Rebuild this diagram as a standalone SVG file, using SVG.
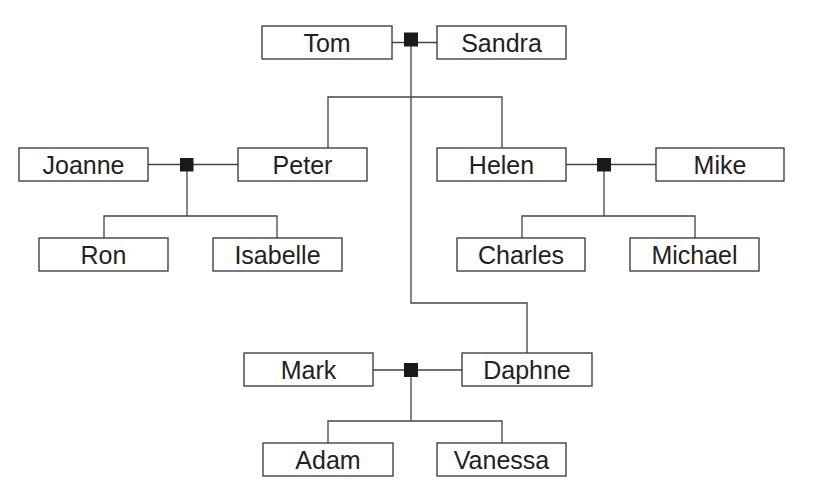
<svg xmlns="http://www.w3.org/2000/svg" width="815" height="499" viewBox="0 0 815 499">
<style>
.box{fill:#fff;stroke:#333;stroke-width:1.3}
.lbl{font-family:"Liberation Sans",Arial,sans-serif;font-size:25px;fill:#222;text-anchor:middle}
.ln{fill:none;stroke:#444;stroke-width:1.3}
.sq{fill:#1a1a1a}
</style>
<rect width="815" height="499" fill="#fff"/>
<g id="connectors">
<path class="ln" d="M392 42.5H437"/>
<path class="ln" d="M411 40V303H527V353"/>
<path class="ln" d="M328 148V97H502V148"/>
<path class="ln" d="M148 164.5H238"/>
<path class="ln" d="M187 165V216"/>
<path class="ln" d="M104 238V216H277V238"/>
<path class="ln" d="M566 164.5H656"/>
<path class="ln" d="M604 165V216"/>
<path class="ln" d="M522 238V216H695V238"/>
<path class="ln" d="M373 370H462"/>
<path class="ln" d="M411 370V421"/>
<path class="ln" d="M328 443V421H502V443"/>
<rect class="sq" x="404" y="32.5" width="14" height="14"/>
<rect class="sq" x="180" y="158" width="13.5" height="13.5"/>
<rect class="sq" x="597" y="158" width="14" height="13.5"/>
<rect class="sq" x="404" y="363" width="14" height="14"/>
</g>
<g id="tom"><rect class="box" x="262" y="26" width="130" height="33"/><text class="lbl" x="327" y="51.5">Tom</text></g>
<g id="sandra"><rect class="box" x="437" y="26" width="129" height="33"/><text class="lbl" x="501.5" y="51.5">Sandra</text></g>
<g id="joanne"><rect class="box" x="19" y="148" width="129" height="33"/><text class="lbl" x="83.5" y="173.5">Joanne</text></g>
<g id="peter"><rect class="box" x="238" y="148" width="129" height="33"/><text class="lbl" x="302.5" y="173.5">Peter</text></g>
<g id="helen"><rect class="box" x="437" y="148" width="129" height="33"/><text class="lbl" x="501.5" y="173.5">Helen</text></g>
<g id="mike"><rect class="box" x="656" y="148" width="128" height="33"/><text class="lbl" x="720" y="173.5">Mike</text></g>
<g id="ron"><rect class="box" x="39" y="238" width="129" height="33"/><text class="lbl" x="103.5" y="263.5">Ron</text></g>
<g id="isabelle"><rect class="box" x="213" y="238" width="129" height="33"/><text class="lbl" x="277.5" y="263.5">Isabelle</text></g>
<g id="charles"><rect class="box" x="457" y="238" width="128" height="33"/><text class="lbl" x="521" y="263.5">Charles</text></g>
<g id="michael"><rect class="box" x="630" y="238" width="129" height="33"/><text class="lbl" x="694.5" y="263.5">Michael</text></g>
<g id="mark"><rect class="box" x="244" y="353" width="129" height="33"/><text class="lbl" x="308.5" y="378.5">Mark</text></g>
<g id="daphne"><rect class="box" x="462" y="353" width="130" height="33"/><text class="lbl" x="527" y="378.5">Daphne</text></g>
<g id="adam"><rect class="box" x="263" y="443" width="130" height="33"/><text class="lbl" x="328" y="468.5">Adam</text></g>
<g id="vanessa"><rect class="box" x="437" y="443" width="129" height="33"/><text class="lbl" x="501.5" y="468.5">Vanessa</text></g>
</svg>
